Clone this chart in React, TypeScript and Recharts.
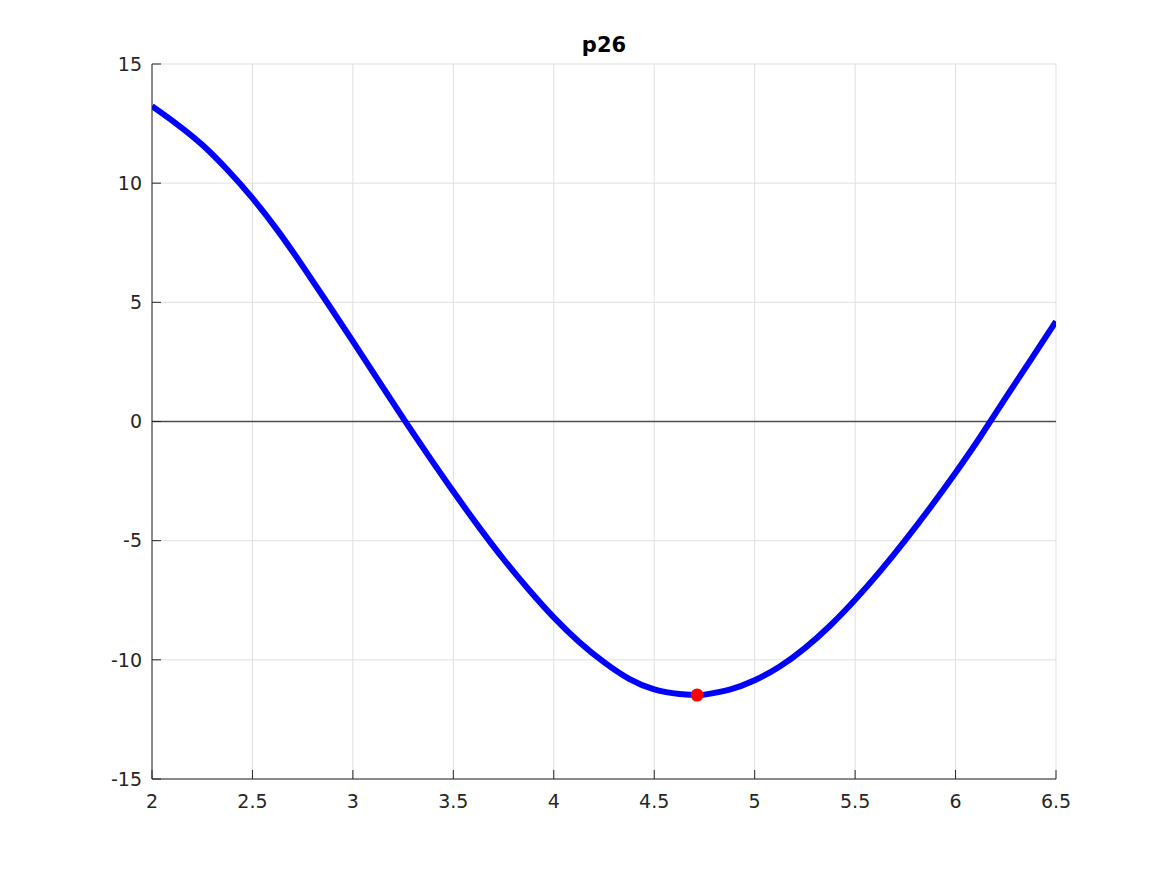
import {
  ComposedChart,
  Line,
  CartesianGrid,
  XAxis,
  YAxis,
  ReferenceLine,
  ReferenceDot,
} from 'recharts';

// curve values (step 0.125)
const xs = [
  2, 2.125, 2.25, 2.375, 2.5, 2.625, 2.75, 2.875, 3, 3.125, 3.25, 3.375, 3.5, 3.625, 3.75, 3.875,
  4, 4.125, 4.25, 4.375, 4.5, 4.625, 4.7135, 4.75, 4.875, 5, 5.125, 5.25, 5.375, 5.5, 5.625, 5.75,
  5.875, 6, 6.125, 6.25, 6.375, 6.5,
];
const ys = [
  13.23, 12.47, 11.61, 10.56, 9.37, 8.02, 6.52, 4.95, 3.36, 1.75, 0.14, -1.42, -2.94, -4.4, -5.78, -7.05,
  -8.22, -9.24, -10.1, -10.8, -11.24, -11.43, -11.48, -11.46, -11.25, -10.86, -10.28, -9.51, -8.57, -7.48, -6.28, -4.98,
  -3.6, -2.15, -0.62, 1.0, 2.6, 4.2,
];

// the marked minimum
const minX = [4.7135];
const minY = [-11.48];

const xTicks = [2, 2.5, 3, 3.5, 4, 4.5, 5, 5.5, 6, 6.5];
const yTicks = [-15, -10, -5, 0, 5, 10, 15];

const data = xs.map((x, i) => ({ x, y: ys[i] }));

const font = 'DejaVu Sans, sans-serif';
const axisColor = '#262626';

export default function App() {
  return (
    <div style={{ position: 'absolute', left: 0, top: 0, background: '#fff' }}>
      <ComposedChart
        width={1167}
        height={875}
        data={data}
        margin={{ top: 64, right: 111, bottom: 66, left: 92 }}
      >
        <text
          x={604}
          y={52}
          textAnchor="middle"
          fontFamily={font}
          fontWeight="bold"
          fontSize={21}
          fill="#000"
        >
          p26
        </text>
        <CartesianGrid stroke="#dfdfdf" strokeWidth={1} />
        <XAxis
          dataKey="x"
          type="number"
          domain={[2, 6.5]}
          ticks={xTicks}
          height={30}
          stroke={axisColor}
          tickSize={-9}
          tickMargin={25}
          tick={{ fill: axisColor, fontSize: 19, fontFamily: font }}
          allowDataOverflow
        />
        <YAxis
          type="number"
          domain={[-15, 15]}
          ticks={yTicks}
          width={60}
          stroke={axisColor}
          tickSize={-9}
          tickMargin={19}
          tick={{ fill: axisColor, fontSize: 19, fontFamily: font }}
          allowDataOverflow
        />
        <ReferenceLine y={0} stroke="#4d4d4d" strokeWidth={1.5} />
        <Line
          type="natural"
          dataKey="y"
          stroke="#0000ff"
          strokeWidth={6}
          dot={false}
          isAnimationActive={false}
        />
        <ReferenceDot x={minX[0]} y={minY[0]} r={6.5} fill="#ff0000" stroke="none" />
      </ComposedChart>
    </div>
  );
}
